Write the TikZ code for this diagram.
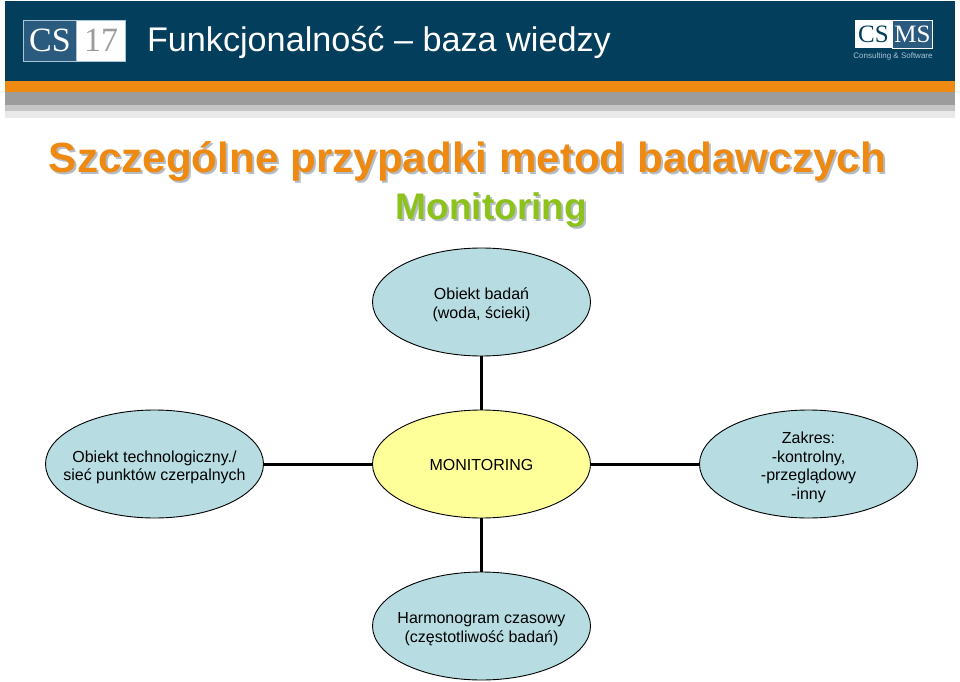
\documentclass[tikz,border=0pt]{standalone}
\usepackage{fontspec}
\setmainfont{Liberation Sans}
\newfontfamily\logofont{Liberation Serif}
\usetikzlibrary{positioning}
\usetikzlibrary{shapes.geometric}
\definecolor{bandblue}{HTML}{033E5C}
\definecolor{logoblue}{HTML}{2A5A7E}
\definecolor{logoedge}{HTML}{A9C6D6}
\definecolor{bandorange}{HTML}{EE8A12}
\definecolor{headgrey}{HTML}{9C9C9C}
\definecolor{midgrey}{HTML}{C6C6C6}
\definecolor{palegrey}{HTML}{E9E9E9}
\definecolor{titlegrey}{HTML}{B4BCC6}
\definecolor{limegreen}{HTML}{8CC21A}
\definecolor{ballblue}{HTML}{B7DDE2}
\definecolor{ballyellow}{HTML}{FFFF99}
\tikzset{
  lift/.style={execute at begin node={\rule{0pt}{#1}}},
  ball/.style={ellipse,draw=black,line width=0.9pt,fill=ballblue,minimum width=218pt,minimum height=108pt,inner xsep=-40pt,inner ysep=-10pt,outer sep=0pt,align=center,font=\fontsize{16}{18.6}\selectfont},
  centreball/.style={ball,fill=ballyellow,lift=13pt},
  band/.style={inner sep=0pt,outer sep=0pt,minimum width=950pt},
  plain/.style={inner sep=0pt,outer sep=0pt},
  spoke/.style={line width=3pt}
}
\begin{document}
\begin{tikzpicture}[x=1pt,y=1pt]
\useasboundingbox (0,0) rectangle (960,681);
% header bands
\node (blue) [band,fill=bandblue,minimum height=80pt] at (480,640) {};
\node (orange) [band,fill=bandorange,minimum height=11pt,below=0pt of blue] {};
\node (grey) [band,fill=headgrey,minimum height=13pt,below=0pt of orange] {};
\node (mid) [band,fill=midgrey,minimum height=6pt,below=0pt of grey] {};
\node (pale) [band,fill=palegrey,minimum height=7pt,below=0pt of mid] {};
% left logo
\node (cs) [plain,fill=logoblue,draw=logoedge,line width=0.7pt,minimum width=53pt,minimum height=41pt,text=white,font=\logofont\fontsize{34}{34}\selectfont] at (50,640.5) {CS};
\node (seventeen) [plain,fill=white,draw=logoedge,line width=0.7pt,minimum width=49pt,minimum height=41pt,text=headgrey,font=\logofont\fontsize{34}{34}\selectfont,right=0pt of cs] {17};
\node (head) [plain,anchor=base west,text=white,font=\fontsize{34.2}{37}\selectfont] at (147,629) {Funkcjonalność – baza wiedzy};
% right logo
\node (csleft) [plain,fill=white,minimum width=38pt,minimum height=28pt,text=bandblue,font=\logofont\fontsize{25}{25}\selectfont] at (873.5,647) {CS};
\node (ms) [plain,fill=logoblue,draw=white,line width=0.7pt,minimum width=40pt,minimum height=28pt,text=white,font=\logofont\fontsize{25}{25}\selectfont,right=0pt of csleft] {MS};
\node (consulting) [plain,text=logoedge,font=\fontsize{8}{10}\selectfont] at (893,625) {Consulting \& Software};
% titles
\node (titleshadow) [plain,text=titlegrey,font=\bfseries\fontsize{42.2}{46}\selectfont] at (469.5,518) {Szczególne przypadki metod badawczych};
\node (title) [plain,text=bandorange,font=\bfseries\fontsize{42.2}{46}\selectfont] at (467.5,520) {Szczególne przypadki metod badawczych};
\node (subshadow) [plain,text=titlegrey,font=\bfseries\fontsize{37}{40}\selectfont] at (493.5,469) {Monitoring};
\node (sub) [plain,text=limegreen,font=\bfseries\fontsize{37}{40}\selectfont] at (491.5,471) {Monitoring};
% diagram
\node (monitoring) [centreball] at (481.5,217) {MONITORING};
\node (object) [ball,lift=36pt,above=54pt of monitoring] {Obiekt badań\\(woda, ścieki)};
\node (network) [ball,lift=37pt,left=109pt of monitoring] {Obiekt technologiczny./\\sieć punktów czerpalnych};
\node (range) [ball,lift=74pt,right=109pt of monitoring] {Zakres:\\-kontrolny,\\-przeglądowy\\-inny};
\node (schedule) [ball,lift=36pt,below=54pt of monitoring] {Harmonogram czasowy\\(częstotliwość badań)};
\path[spoke]
  (object) edge (monitoring)
  (network) edge (monitoring)
  (monitoring) edge (range)
               edge (schedule)
  ;
\end{tikzpicture}
\end{document}
